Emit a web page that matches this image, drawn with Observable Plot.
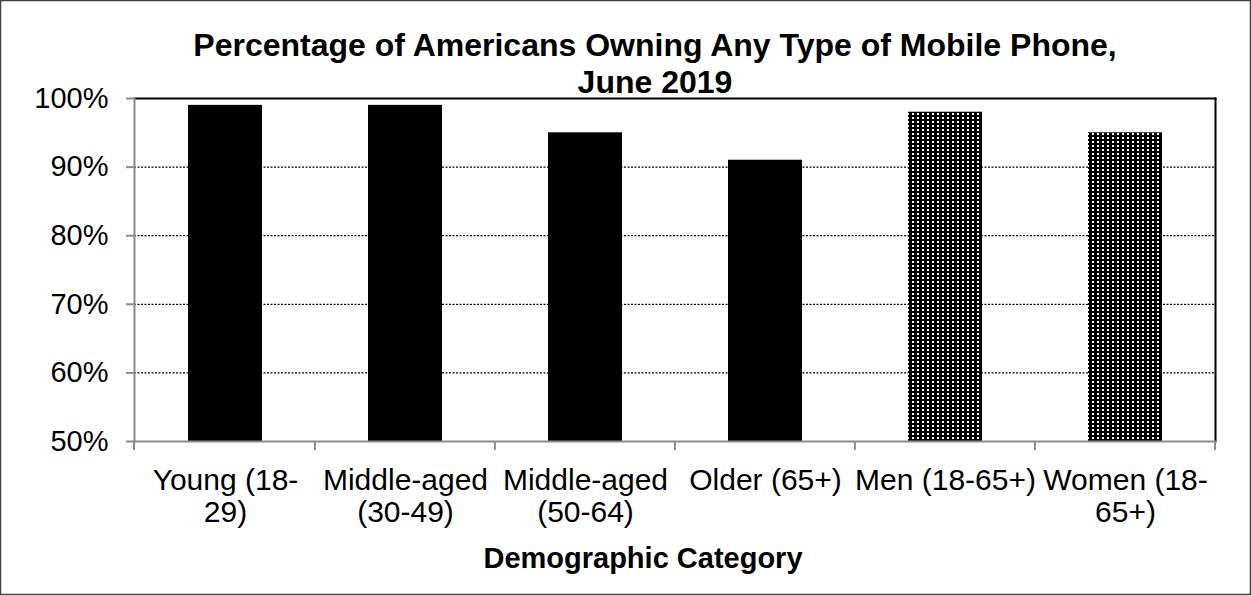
<!DOCTYPE html>
<html><head><meta charset="utf-8">
<script src="https://cdn.jsdelivr.net/npm/d3@7"></script>
<script src="https://cdn.jsdelivr.net/npm/@observablehq/plot@0.6"></script>
<style>body{margin:0;background:#fff}</style>
</head><body><div id="chart"></div>
<script>
// ---- data ----
const categories = ["Young (18-29)", "Middle-aged (30-49)", "Middle-aged (50-64)", "Older (65+)", "Men (18-65+)", "Women (18-65+)"];
const tickLabels = ["Young (18-\n29)", "Middle-aged\n(30-49)", "Middle-aged\n(50-64)", "Older (65+)", "Men (18-65+)", "Women (18-\n65+)"];
const values = [99, 99, 95, 91, 98, 95];
const groups = ["age", "age", "age", "age", "gender", "gender"];
const yTicks = [50, 60, 70, 80, 90, 100];
const gridTicks = [60, 70, 80, 90];
const titleLines = ["Percentage of Americans Owning Any Type of Mobile Phone,", "June 2019"];
const xTitle = "Demographic Category";

const data = categories.map((c, i) => ({category: c, value: values[i], group: groups[i]}));
const W = 1252, H = 596;
const FONT = "'Liberation Sans', Arial, sans-serif";

const plot = Plot.plot({
  width: W, height: H,
  marginLeft: 134, marginRight: 37, marginTop: 98, marginBottom: 155,
  style: {fontFamily: FONT, fontSize: "29px", color: "black", background: "white", overflow: "visible"},
  x: {domain: categories, paddingInner: 0.59, paddingOuter: 0.295, label: null},
  y: {domain: [50, 100], label: null},
  marks: [
    Plot.ruleY(gridTicks, {stroke: "black", strokeDasharray: "2,1.5", strokeWidth: 1.2}),
    Plot.barY(data.filter(d => d.group === "age"), {x: "category", y1: 50, y2: "value", fill: "black"}),
    Plot.barY(data.filter(d => d.group === "gender"), {x: "category", y1: 50, y2: "value", fill: "url(#dots)"}),
    Plot.frame({anchor: "top", stroke: "black", strokeWidth: 2}),
    Plot.frame({anchor: "right", stroke: "black", strokeWidth: 2}),
    Plot.frame({anchor: "left", stroke: "#8c8c8c", strokeWidth: 2}),
    Plot.frame({anchor: "bottom", stroke: "#8c8c8c", strokeWidth: 2}),
    Plot.axisY({ticks: yTicks, tickFormat: d => d + "%", tickSize: 8, tickPadding: 18, stroke: "#8c8c8c", strokeWidth: 2, fontSize: 29}),
    Plot.axisX({tickSize: 0, tickPadding: 26, tickFormat: c => tickLabels[categories.indexOf(c)], fontSize: 30, lineHeight: 1.07})
  ]
});

const svg = d3.select(plot);
const defs = svg.insert("defs", ":first-child");
const pat = defs.append("pattern").attr("id", "dots").attr("patternUnits", "userSpaceOnUse").attr("width", 5).attr("height", 4);
pat.append("rect").attr("width", 5).attr("height", 4).attr("fill", "black");
pat.append("rect").attr("x", 2).attr("y", 1).attr("width", 2).attr("height", 2).attr("fill", "white");

// category boundary ticks on the x axis, from the x scale
const xs = plot.scale("x"), ys = plot.scale("y");
const bottom = ys.apply(50);
const bounds = categories.map(c => xs.apply(c) - xs.paddingInner * xs.step / 2);
bounds[0] = xs.range[0];
bounds.push(xs.range[1]);
svg.append("g").selectAll("line").data(bounds).join("line")
  .attr("x1", d => d).attr("x2", d => d).attr("y1", bottom).attr("y2", bottom + 9)
  .attr("stroke", "#8c8c8c").attr("stroke-width", 2);

// titles
svg.append("text").attr("x", 655).attr("y", 56).attr("text-anchor", "middle")
  .attr("font-family", FONT).attr("font-weight", "bold").attr("font-size", 32)
  .selectAll("tspan").data(titleLines).join("tspan")
  .attr("x", 655).attr("dy", (d, i) => i ? 37 : 0).text(d => d);
svg.append("text").attr("x", 643).attr("y", 568).attr("text-anchor", "middle")
  .attr("font-family", FONT).attr("font-weight", "bold").attr("font-size", 29).text(xTitle);

// outer chart border
svg.append("rect").attr("x", 0.5).attr("y", 0.5).attr("width", W - 2).attr("height", H - 2)
  .attr("fill", "none").attr("stroke", "#404040").attr("stroke-width", 1.5);

document.getElementById("chart").appendChild(plot);
</script>
</body></html>
